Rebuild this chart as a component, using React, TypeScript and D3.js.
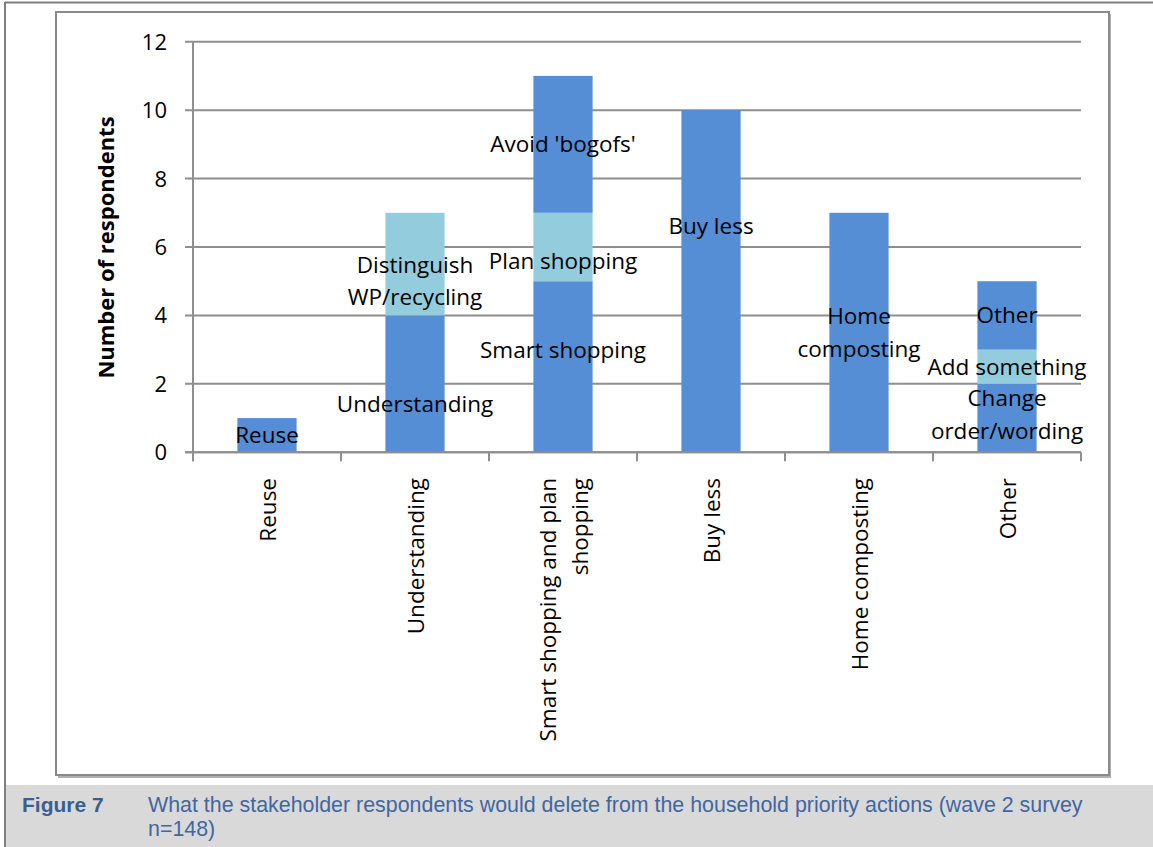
import React from "react";
import * as d3 from "d3";

// Categories along the x axis and their wrapped axis labels
const categories = [
  "Reuse",
  "Understanding",
  "Smart shopping and plan shopping",
  "Buy less",
  "Home composting",
  "Other",
];
const categoryLines = [
  ["Reuse"],
  ["Understanding"],
  ["Smart shopping and plan", "shopping"],
  ["Buy less"],
  ["Home composting"],
  ["Other"],
];

// Stacked segments (bottom, middle, top) per category
const baseValues = [1, 4, 5, 10, 7, 2];
const middleValues = [0, 3, 2, 0, 0, 1];
const topValues = [0, 0, 4, 0, 0, 2];

// Text written on each segment, and the value each label is anchored at
const baseLabels = [
  ["Reuse"],
  ["Understanding"],
  ["Smart shopping"],
  ["Buy less"],
  ["Home", "composting"],
  ["Change", "order/wording"],
];
const middleLabels = [null, ["Distinguish", "WP/recycling"], ["Plan shopping"], null, null, ["Add something"]];
const topLabels = [null, null, ["Avoid 'bogofs'"], null, null, ["Other"]];
const baseLabelAt = [0.5, 1.4, 3, 6.6, 3.5, 1.1];
const middleLabelAt = [null, 5, 5.6, null, null, 2.5];
const topLabelAt = [null, null, 9, null, null, 4];

const yTicks = [0, 2, 4, 6, 8, 10, 12];
const yTitle = "Number of respondents";
const captionNumber = "Figure 7";
const captionLines = [
  "What the stakeholder respondents would delete from the household priority actions (wave 2 survey",
  "n=148)",
];

const DARK = "#558ed5";
const LIGHT = "#93cddd";
const GRID = "#8e8e8e";
const FONT = "'Open Sans', sans-serif";
const CAPTION_FONT = "'Liberation Sans', Arial, sans-serif";

export default function App() {
  const W = 1153;
  const H = 847;
  const left = 193;
  const right = 1081;
  const top = 41.7;
  const bottom = 452.3;

  const x = d3
    .scaleBand<string>()
    .domain(categories)
    .range([left, right])
    .paddingInner(0.6)
    .paddingOuter(0.3);
  const y = d3.scaleLinear().domain([0, 12]).range([bottom, top]);

  const keys = ["base", "middle", "top"];
  const table = categories.map((c, i) => ({
    category: c,
    base: baseValues[i],
    middle: middleValues[i],
    top: topValues[i],
  }));
  const stacked = d3.stack<any>().keys(keys)(table);
  const fills = [DARK, LIGHT, DARK];

  const labelSets = [
    { lines: baseLabels, at: baseLabelAt },
    { lines: middleLabels, at: middleLabelAt },
    { lines: topLabels, at: topLabelAt },
  ];

  const step = x.step();
  const boundaries = d3.range(categories.length + 1).map((i) => left + i * step);
  const labelSize = 22.5;
  const lineGap = 32.5;

  return (
    <div style={{ position: "absolute", left: 0, top: 0 }}>
      <svg width={W} height={H} style={{ display: "block" }}>
        <rect x={0} y={0} width={W} height={H} fill="#ffffff" />
        {/* outer page frame */}
        <line x1={5} y1={2.5} x2={W} y2={2.5} stroke="#7f7f7f" strokeWidth={2} />
        <line x1={5} y1={2} x2={5} y2={H} stroke="#7f7f7f" strokeWidth={2} />

        {/* chart area border with soft shadow */}
        <line x1={1110} y1={14} x2={1110} y2={778} stroke="#b0b0b0" strokeWidth={2} />
        <line x1={58} y1={777} x2={1111} y2={777} stroke="#b0b0b0" strokeWidth={2} />
        <rect x={56} y={12} width={1053} height={763} fill="#ffffff" stroke="#8a8a8a" strokeWidth={2} />

        {/* gridlines */}
        {yTicks.map((t) => (
          <line key={t} x1={left - 8} x2={right} y1={y(t)} y2={y(t)} stroke={GRID} strokeWidth={2} />
        ))}

        {/* stacked bars */}
        {stacked.map((series, si) =>
          series.map((d, i) =>
            d[1] - d[0] > 0 ? (
              <rect
                key={`${si}-${i}`}
                x={x(categories[i])}
                width={x.bandwidth()}
                y={y(d[1])}
                height={y(d[0]) - y(d[1])}
                fill={fills[si]}
              />
            ) : null
          )
        )}

        {/* axes */}
        <line x1={left} x2={left} y1={top} y2={bottom + 9} stroke={GRID} strokeWidth={2} />
        <line x1={left - 8} x2={right} y1={bottom} y2={bottom} stroke={GRID} strokeWidth={2} />
        {boundaries.map((bx, i) => (
          <line key={i} x1={bx} x2={bx} y1={bottom} y2={bottom + 9} stroke={GRID} strokeWidth={2} />
        ))}

        {/* y tick labels */}
        {yTicks.map((t) => (
          <text
            key={t}
            x={167}
            y={y(t) + 8}
            textAnchor="end"
            fontFamily={FONT}
            fontSize={22}
            fill="#000"
          >
            {t}
          </text>
        ))}

        {/* y axis title */}
        <text
          transform={`translate(114, 247.5) rotate(-90)`}
          textAnchor="middle"
          fontFamily={FONT}
          fontWeight="bold"
          fontSize={22}
          fill="#000"
        >
          {yTitle}
        </text>

        {/* segment labels */}
        {labelSets.map((set, si) =>
          set.lines.map((lines, i) => {
            if (!lines) return null;
            const cx = (x(categories[i]) as number) + x.bandwidth() / 2;
            const cy = y(set.at[i] as number);
            const n = lines.length;
            return (
              <text
                key={`${si}-${i}`}
                textAnchor="middle"
                fontFamily={FONT}
                fontSize={labelSize}
                fill="#000"
              >
                {lines.map((ln, li) => (
                  <tspan key={li} x={cx} y={cy + (li - (n - 1) / 2) * lineGap + 8}>
                    {ln}
                  </tspan>
                ))}
              </text>
            );
          })
        )}

        {/* category labels, rotated */}
        {categoryLines.map((lines, i) => {
          const cx = (x(categories[i]) as number) + x.bandwidth() / 2;
          const n = lines.length;
          return (
            <g key={i}>
              {lines.map((ln, li) => (
                <text
                  key={li}
                  transform={`translate(${cx + (li - (n - 1) / 2) * lineGap + 9}, 478) rotate(-90)`}
                  textAnchor="end"
                  fontFamily={FONT}
                  fontSize={labelSize}
                  fill="#000"
                >
                  {ln}
                </text>
              ))}
            </g>
          );
        })}

        {/* caption */}
        <rect x={6} y={785} width={W - 6} height={H - 785} fill="#d9d9d9" />
        <line x1={5} y1={785} x2={5} y2={H} stroke="#7f7f7f" strokeWidth={2} />
        <text x={22} y={812} fontFamily={CAPTION_FONT} fontWeight="bold" fontSize={21} fill="#3a5f8f">
          {captionNumber}
        </text>
        {captionLines.map((ln, i) => (
          <text
            key={i}
            x={148}
            y={812 + i * 24}
            fontFamily={CAPTION_FONT}
            fontSize={21.4}
            fill="#4167a0"
          >
            {ln}
          </text>
        ))}
      </svg>
    </div>
  );
}
